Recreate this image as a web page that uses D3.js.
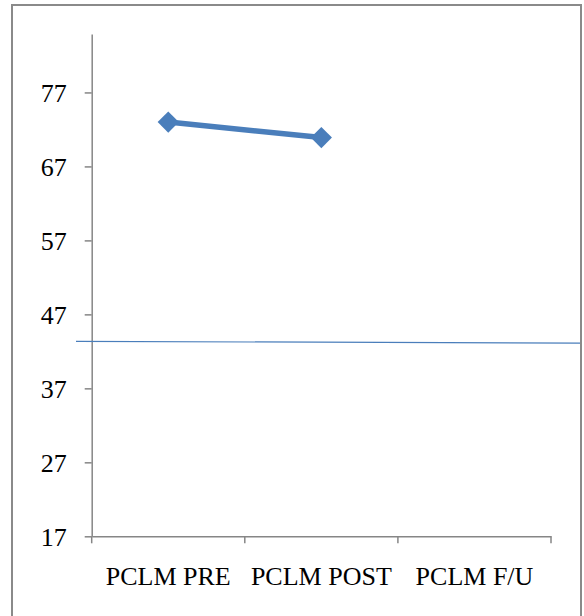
<!DOCTYPE html>
<html>
<head>
<meta charset="utf-8">
<script src="https://cdn.jsdelivr.net/npm/d3@7"></script>
<style>
  html, body { margin: 0; padding: 0; background: #fff; }
  svg { display: block; }
</style>
</head>
<body>
<svg id="chart" width="584" height="616"></svg>
<script>
const categories = ["PCLM PRE", "PCLM POST", "PCLM F/U"];
const values = [73.0, 70.9, null];
const yTickValues = [17, 27, 37, 47, 57, 67, 77];
const yDomain = [17, 84.9];
const refLine = [43.35, 43.12]; // start and end values of the thin horizontal line

(function () {
const svg = d3.select("#chart");
const mLeft = 91.7, mRight = 551, mTop = 34, mBottom = 536.3;

// outer frame (left, top, right; bottom runs off the picture)
svg.append("path")
  .attr("d", "M12,630 L12,5 L581,5 L581,630")
  .attr("fill", "none")
  .attr("stroke", "#8a8a8a")
  .attr("stroke-width", 2);

const x = d3.scaleBand().domain(categories).range([mLeft, mRight]).padding(0);
const y = d3.scaleLinear().domain(yDomain).range([mBottom, mTop]);

const font = "'Liberation Serif', 'Times New Roman', serif";
const axisColor = "#868686";

// Y axis
const yAxis = svg.append("g")
  .attr("transform", `translate(${mLeft},0)`)
  .call(d3.axisLeft(y).tickValues(yTickValues).tickSize(7).tickPadding(18).tickSizeOuter(0));
yAxis.select(".domain").attr("stroke", axisColor).attr("stroke-width", 1.5);
yAxis.selectAll(".tick line").attr("stroke", axisColor).attr("stroke-width", 1.5);
yAxis.selectAll(".tick text")
  .attr("font-family", font).attr("font-size", 26).attr("fill", "#000")
  .attr("dy", "0.35em");

// X axis
const xAxis = svg.append("g")
  .attr("transform", `translate(0,${mBottom})`)
  .call(d3.axisBottom(x).tickSize(0).tickPadding(30));
xAxis.select(".domain").attr("stroke", axisColor).attr("stroke-width", 1.5);
xAxis.selectAll(".tick text")
  .attr("font-family", font).attr("font-size", 26).attr("fill", "#000");
const bounds = categories.map(c => x(c)).concat([x(categories[categories.length-1]) + x.bandwidth()]);
xAxis.selectAll("line.bt").data(bounds).enter().append("line")
  .attr("class", "bt")
  .attr("x1", d => d).attr("x2", d => d)
  .attr("y1", 0).attr("y2", 7)
  .attr("stroke", axisColor).attr("stroke-width", 1.5);

// thin horizontal reference line
svg.append("line")
  .attr("x1", 76).attr("x2", 580)
  .attr("y1", y(refLine[0])).attr("y2", y(refLine[1]))
  .attr("stroke", "#4a7ebb").attr("stroke-width", 1.2);

// data line
const pts = categories.map((c, i) => ({c, v: values[i]})).filter(d => d.v != null);
const line = d3.line().x(d => x(d.c) + x.bandwidth()/2).y(d => y(d.v));
svg.append("path")
  .datum(pts)
  .attr("d", line)
  .attr("fill", "none")
  .attr("stroke", "#4a7ebb")
  .attr("stroke-width", 5.5);

svg.selectAll("path.mk").data(pts).enter().append("path")
  .attr("class", "mk")
  .attr("d", d3.symbol().type(d3.symbolSquare).size(225))
  .attr("transform", d => `translate(${x(d.c) + x.bandwidth()/2},${y(d.v)}) rotate(45)`)
  .attr("fill", "#4a7ebb");
})();
</script>
</body>
</html>
